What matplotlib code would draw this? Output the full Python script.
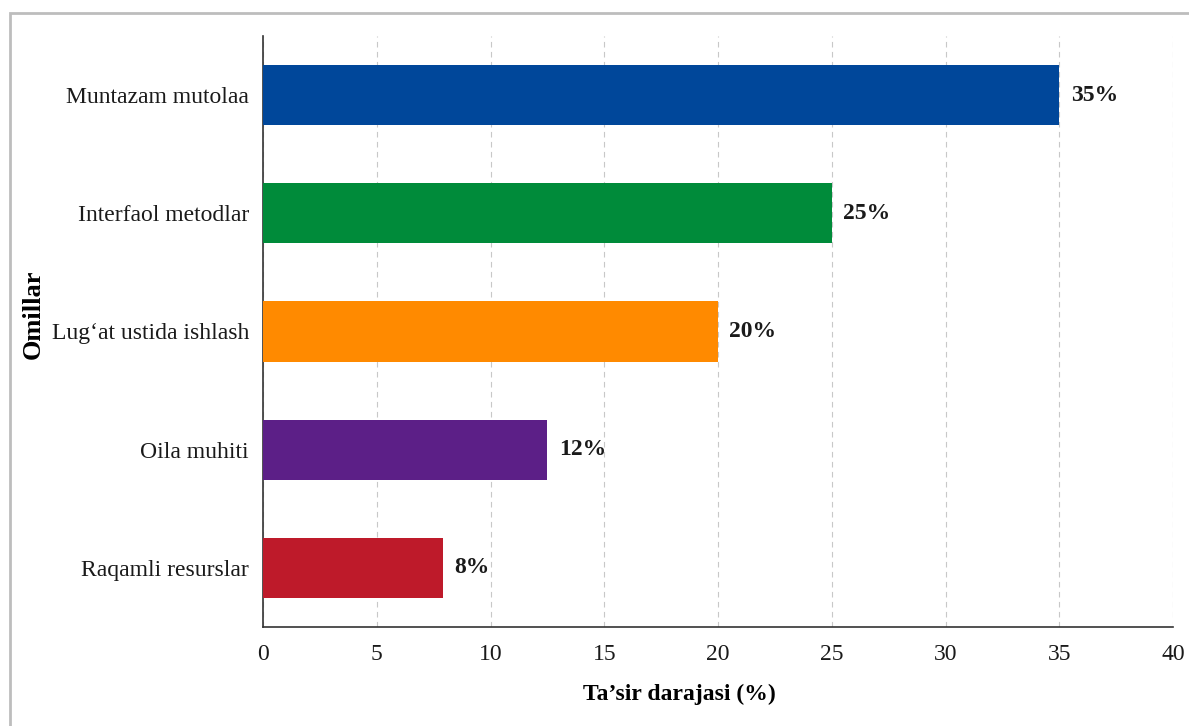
import matplotlib
matplotlib.use("Agg")
import matplotlib.pyplot as plt
from matplotlib.patches import Rectangle

# data (bottom -> top order as drawn)
factors = ["Raqamli resurslar", "Oila muhiti", "Lug\u2018at ustida ishlash",
           "Interfaol metodlar", "Muntazam mutolaa"]
impact = [7.9, 12.5, 20, 25, 35]
value_labels = ["8%", "12%", "20%", "25%", "35%"]
colors = ["#BE1A2A", "#5C1F87", "#FF8A00", "#008B3A", "#00479A"]
xticks = [0, 5, 10, 15, 20, 25, 30, 35, 40]

plt.rcParams["font.family"] = ["Liberation Serif", "DejaVu Serif"]

W, H = 1189, 726
fig = plt.figure(figsize=(W / 100, H / 100), dpi=100)
ax = fig.add_axes([263 / W, 1 - 627 / H, (1173 - 263) / W, (627 - 36) / H])

# outer frame of the figure
fig.patches.append(Rectangle((10 / W, -0.05), 1.2, 1 - 13 / H + 0.05,
                             transform=fig.transFigure, fill=False,
                             edgecolor="#bdbdbd", lw=2))

ypos = range(len(factors))
ax.barh(ypos, impact, height=0.51, color=colors, zorder=3)
for y, v, lab in zip(ypos, impact, value_labels):
    ax.text(v + 0.5, y, lab, va="center", ha="left", fontsize=17,
            fontweight="bold", color="#1a1a1a")

ax.set_xlim(0, 40)
ax.set_ylim(-0.5, 4.5)
ax.set_xticks(xticks)
ax.set_yticks(list(ypos))
ax.set_yticklabels(factors)
ax.tick_params(axis="both", length=0, labelsize=17, colors="#1a1a1a")
ax.tick_params(axis="x", pad=12)
ax.tick_params(axis="y", pad=10)
ax.grid(axis="x", ls=(0, (5, 4)), color="#c8c8c8", lw=0.8, zorder=0)

for s in ["top", "right"]:
    ax.spines[s].set_visible(False)
for s in ["left", "bottom"]:
    ax.spines[s].set_color("#333333")
    ax.spines[s].set_linewidth(1.2)

ax.set_xlabel("Ta\u2019sir darajasi (%)", fontsize=17, fontweight="bold")
ax.xaxis.set_label_coords((679 - 263) / (1173 - 263), -(684 - 627) / (627 - 36))
ax.set_ylabel("Omillar", fontsize=19, fontweight="bold")
ax.yaxis.set_label_coords(-(263 - 45) / (1173 - 263), (627 - 314) / (627 - 36))

fig.savefig("out.png", dpi=100)
